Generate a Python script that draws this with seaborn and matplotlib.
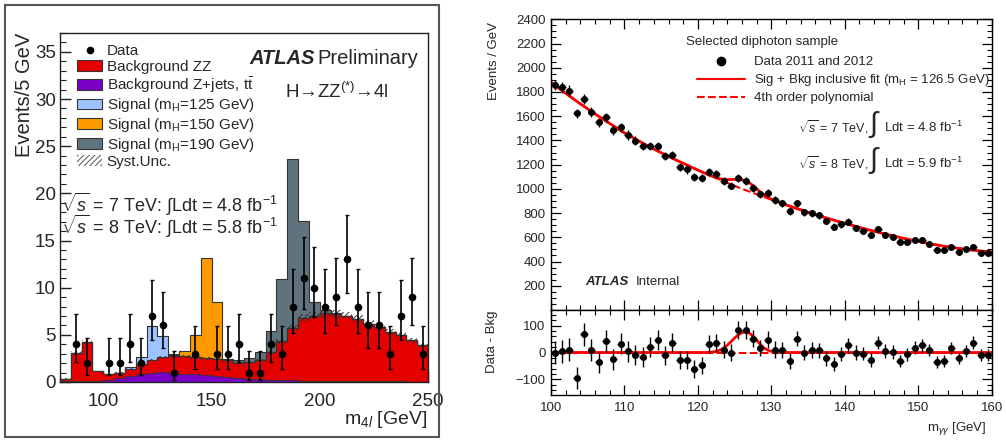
import numpy as np
import pandas as pd
import matplotlib
matplotlib.use("Agg")
import matplotlib.pyplot as plt
import seaborn as sns
from matplotlib.patches import Patch, Rectangle
from matplotlib.lines import Line2D
from matplotlib.ticker import MultipleLocator

sns.set_style("ticks")
plt.rcParams["font.family"] = ["Liberation Sans", "DejaVu Sans"]
plt.rcParams["mathtext.fontset"] = "custom"
plt.rcParams["mathtext.rm"] = "Liberation Sans"
plt.rcParams["mathtext.it"] = "Liberation Sans:italic"
plt.rcParams["mathtext.bf"] = "Liberation Sans:bold"
plt.rcParams["hatch.linewidth"] = 0.7

# ---------------- left: H -> ZZ -> 4l, 5 GeV bins from 80 to 250
edges = list(range(80, 255, 5))
centers = [e + 2.5 for e in edges[:-1]]

zjets = [0.1, 0.15, 0.15, 0.15, 0.25, 0.4, 0.6, 0.8, 0.95, 1.05, 1.0, 0.9, 0.8, 0.7,
         0.6, 0.5, 0.4, 0.35, 0.3, 0.25, 0.2, 0.18, 0.15, 0.13, 0.12, 0.1, 0.1, 0.08,
         0.08, 0.07, 0.06, 0.06, 0.05, 0.05]
zz = [0.26, 2.95, 4.1, 1.0, 0.55, 0.6, 0.8, 1.15, 1.4, 1.6, 1.8, 1.85, 1.85, 1.8,
      1.85, 1.8, 1.65, 1.75, 2.0, 2.95, 4.1, 5.52, 6.65, 6.92, 7.23, 7.15, 6.95, 6.62,
      6.12, 5.78, 5.24, 4.94, 4.35, 3.85]
sig125 = [0, 0, 0, 0, 0, 0, 0.2, 0.7, 3.55, 2.2, 0.1, 0, 0, 0,
          0, 0, 0, 0, 0, 0, 0, 0, 0, 0, 0, 0, 0, 0, 0, 0, 0, 0, 0, 0]
sig150 = [0, 0, 0, 0, 0, 0, 0, 0, 0, 0, 0.15, 0.5, 2.35, 10.6,
          6.05, 0.15, 0, 0, 0, 0, 0, 0, 0, 0, 0, 0, 0, 0, 0, 0, 0, 0, 0, 0]
sig190 = [0, 0, 0, 0, 0, 0, 0, 0, 0, 0, 0, 0, 0, 0,
          0, 0, 0.25, 0.4, 0.9, 2.2, 6.6, 17.9, 10.3, 1.45, 0.3, 0.1, 0, 0, 0, 0, 0, 0, 0, 0]
syst_frac = 0.06

data_m = [87.5, 92.5, 102.5, 107.5, 112.5, 117.5, 122.5, 127.5, 132.5, 142.5, 152.5,
          157.5, 162.5, 167.5, 172.5, 177.5, 182.5, 187.5, 192.5, 197.5, 202.5, 207.5,
          212.5, 217.5, 222.5, 227.5, 232.5, 237.5, 242.5, 247.5]
data_n = [4, 2, 2, 2, 4, 2, 7, 6, 1, 3, 3, 3, 4, 1, 1, 4, 3, 8, 11, 10, 8, 9, 13, 8,
          6, 6, 3, 7, 9, 3]
# 68% Poisson intervals (lower, upper) per observed count
poisson_band = {1: (0.173, 3.300), 2: (0.708, 4.638), 3: (1.367, 5.918),
                4: (2.086, 7.163), 6: (3.620, 9.584), 7: (4.419, 10.77),
                8: (5.232, 11.95), 9: (6.057, 13.11), 10: (6.891, 14.27),
                11: (7.734, 15.42), 13: (9.441, 17.70)}

# ---------------- right: diphoton, 1 GeV bins from 100 to 160
gg_mass = np.arange(100.5, 160.0, 1.0)
gg_events = [1857, 1838, 1811, 1623, 1739, 1637, 1549, 1590, 1486, 1508,
             1445, 1398, 1354, 1354, 1354, 1272, 1280, 1183, 1161, 1101,
             1087, 1137, 1120, 1068, 1027, 1087, 1068, 1010, 955, 969,
             908, 881, 817, 881, 806, 798, 781, 735, 688, 707,
             729, 679, 655, 619, 666, 619, 603, 559, 564, 578,
             578, 545, 495, 495, 523, 481, 501, 523, 468, 468]
gg_resid = [0, 5, 11, -94, 67, 9, -37, 42, -26, 33,
            4, -10, -16, 21, 46, -10, 37, -28, -28, -62,
            -48, 33, 37, 11, 0, 83, 83, 52, 17, 48,
            11, 11, -32, 52, 0, 9, 9, -22, -43, -6,
            27, 0, -4, -28, 37, 5, 2, -32, -7, 17,
            27, 9, -35, -32, 17, -22, 5, 37, -10, -10]

# fit curves: 1 GeV steps, 0.5 GeV steps around the peak
fit_mass = list(range(100, 120)) + [120 + 0.5 * i for i in range(25)] + list(range(133, 161))
bkg_fit = [1880, 1834, 1789, 1745, 1702, 1660, 1619, 1579, 1540, 1501,
           1462, 1428, 1394, 1361, 1329, 1298, 1268, 1239, 1211, 1183,
           1155, 1141, 1128, 1114, 1101, 1088, 1075, 1062, 1050, 1037, 1025, 1013, 1001,
           989, 978, 966, 955, 944, 933, 922, 911, 900, 889, 878, 868,
           847, 827, 807, 788, 769, 751, 733, 716, 699, 682, 666, 650, 635, 620,
           606, 592, 579, 566, 554, 543, 532, 522, 513, 505, 497, 490, 484, 479]
sig_fit = [0] * 20 + [0, 0, 0, 0.5, 2, 4, 9, 16, 27, 40, 54, 66, 74, 76, 72, 61, 46, 30,
                      17, 9, 4, 1.5, 0.5, 0, 0] + [0] * 28

RED = "#e50000"
PURPLE = "#7a00c8"
LBLUE = "#9fc3ff"
ORANGE = "#ff9a00"
GREY = "#5f727d"
EDGE = "#333333"

W, H = 1006, 441


def px(x, y):
    return x / W, 1 - y / H


hist = pd.DataFrame({"m": centers, "zjets": zjets, "zz": zz,
                     "s125": sig125, "s150": sig150, "s190": sig190})
hist["bkg"] = hist["zz"] + hist["zjets"]
hist["top125"] = hist["bkg"] + hist["s125"]
hist["top150"] = hist["bkg"] + hist["s150"]
hist["top190"] = hist["bkg"] + hist["s190"]

fig = plt.figure(figsize=(W / 100, H / 100), dpi=100)

# ======================= left panel
axL = fig.add_axes([60 / W, 1 - 382 / H, 368 / W, 349 / H])

for col_name, col in [("top190", GREY), ("top150", ORANGE), ("top125", LBLUE)]:
    sns.histplot(data=hist, x="m", weights=col_name, bins=edges, element="step",
                 fill=True, color=col, alpha=1, edgecolor=EDGE, linewidth=0.8, ax=axL)
sns.histplot(data=hist, x="m", weights="bkg", bins=edges, element="step", fill=True,
             color=RED, alpha=1, edgecolor=EDGE, linewidth=0.8, ax=axL)
sns.histplot(data=hist, x="m", weights="zjets", bins=edges, element="step", fill=True,
             color=PURPLE, alpha=1, edgecolor=EDGE, linewidth=0.6, ax=axL)

bkg_tot = hist["bkg"].to_numpy()
band_lo = np.append(bkg_tot * (1 - syst_frac), bkg_tot[-1] * (1 - syst_frac))
band_hi = np.append(bkg_tot * (1 + syst_frac), bkg_tot[-1] * (1 + syst_frac))
axL.fill_between(edges, band_lo, band_hi, step="post", facecolor="none",
                 edgecolor="#333333", hatch="//////", linewidth=0)

err_lo = [n - poisson_band[n][0] for n in data_n]
err_hi = [poisson_band[n][1] - n for n in data_n]
axL.errorbar(data_m, data_n, yerr=[err_lo, err_hi], fmt="o", color="black",
             ms=4.5, elinewidth=1.2, capsize=1.5, capthick=1)

axL.set_xlim(80, 250)
axL.set_ylim(0, 37)
axL.set_xticks([100, 150, 200, 250])
axL.xaxis.set_minor_locator(MultipleLocator(10))
axL.yaxis.set_major_locator(MultipleLocator(5))
axL.yaxis.set_minor_locator(MultipleLocator(1))
axL.tick_params(which="both", direction="in", top=False, right=False, labelsize=13.5,
                color="#222222")
axL.tick_params(which="major", length=8, width=1)
axL.tick_params(which="minor", length=4.5, width=0.8)
axL.tick_params(axis="x", pad=8)
axL.tick_params(axis="y", pad=3)
axL.set_xlabel("")
axL.set_ylabel("")
for s in axL.spines.values():
    s.set_color("#222222")
    s.set_linewidth(1)

handles = [
    Line2D([], [], marker="o", color="black", ls="none", ms=4.5),
    Patch(facecolor=RED, edgecolor=EDGE, lw=0.8),
    Patch(facecolor=PURPLE, edgecolor=EDGE, lw=0.8),
    Patch(facecolor=LBLUE, edgecolor=EDGE, lw=0.8),
    Patch(facecolor=ORANGE, edgecolor=EDGE, lw=0.8),
    Patch(facecolor=GREY, edgecolor=EDGE, lw=0.8),
    Patch(facecolor="white", edgecolor="#555555", hatch="//////", lw=0),
]
labels = ["Data", "Background ZZ", r"Background Z+jets, t$\bar{\mathrm{t}}$",
          r"Signal (m$_\mathrm{H}$=125 GeV)", r"Signal (m$_\mathrm{H}$=150 GeV)",
          r"Signal (m$_\mathrm{H}$=190 GeV)", "Syst.Unc."]
axL.legend(handles, labels, loc="upper left", bbox_to_anchor=px(77, 44),
           bbox_transform=fig.transFigure, frameon=False, fontsize=11,
           handlelength=1.65, handleheight=0.7, labelspacing=0.1,
           handletextpad=0.3, borderpad=0, borderaxespad=0)

fig.text(*px(249, 58), "ATLAS", fontsize=14.5, fontweight="bold", fontstyle="italic",
         ha="left", va="center")
fig.text(*px(317, 58), "Preliminary", fontsize=14.5, ha="left", va="center")
fig.text(*px(285, 92), r"H→ZZ$^{(*)}$→4l", fontsize=13.5, ha="left", va="center")
fig.text(*px(61, 204), r"$\sqrt{s}$ = 7 TeV: ∫Ldt = 4.8 fb$^{-1}$", fontsize=13,
         ha="left", va="center")
fig.text(*px(61, 226), r"$\sqrt{s}$ = 8 TeV: ∫Ldt = 5.8 fb$^{-1}$", fontsize=13,
         ha="left", va="center")
fig.text(*px(25, 33), "Events/5 GeV", fontsize=14.5, rotation=90, ha="center", va="top")
fig.text(*px(427, 420), r"m$_{4l}$ [GeV]", fontsize=14, ha="right", va="center")

fig.add_artist(Rectangle(px(5, 437), 434 / W, 432 / H, transform=fig.transFigure,
                         fill=False, edgecolor="#555555", lw=1.5))

# ======================= right panel
axM = fig.add_axes([551 / W, 1 - 310 / H, 440.7 / W, 290.7 / H])
axR = fig.add_axes([551 / W, 1 - 395 / H, 440.7 / W, 85 / H], sharex=axM)

sig_plus_bkg = np.array(bkg_fit) + np.array(sig_fit)
sns.lineplot(x=fit_mass, y=sig_plus_bkg, color="red", lw=2, ax=axM)
sns.lineplot(x=fit_mass, y=bkg_fit, color="red", lw=1.5, ls="--", ax=axM)
axM.errorbar(gg_mass, gg_events, xerr=0.5, yerr=np.sqrt(gg_events), fmt="o",
             color="black", ms=4, elinewidth=1, capsize=0)

sns.lineplot(x=fit_mass, y=sig_fit, color="red", lw=2, ax=axR)
axR.axhline(0, color="red", lw=1.5, ls="--")
axR.errorbar(gg_mass, gg_resid, xerr=0.5, yerr=np.sqrt(gg_events), fmt="o",
             color="black", ms=4, elinewidth=1, capsize=0)

axM.set_xlim(100, 160)
axM.set_ylim(0, 2400)
axM.set_yticks(np.arange(200, 2401, 200))
axM.yaxis.set_minor_locator(MultipleLocator(50))
axM.xaxis.set_major_locator(MultipleLocator(10))
axM.xaxis.set_minor_locator(MultipleLocator(2))
axR.set_ylim(-158, 158)
axR.set_yticks([-100, 0, 100])
axR.yaxis.set_minor_locator(MultipleLocator(20))

for ax in (axM, axR):
    ax.tick_params(which="both", direction="in", top=True, right=True, labelsize=9.5,
                   color="black")
    ax.tick_params(which="major", length=7, width=0.9)
    ax.tick_params(which="minor", length=3.5, width=0.8)
    ax.tick_params(axis="y", pad=4)
    ax.tick_params(axis="x", pad=5)
    ax.set_xlabel("")
    ax.set_ylabel("")
    for s in ax.spines.values():
        s.set_color("black")
        s.set_linewidth(1)
axM.tick_params(axis="x", labelbottom=False)

fig.text(*px(686, 42), "Selected diphoton sample", fontsize=9.5, ha="left", va="center")
axM.legend([Line2D([], [], marker="o", color="black", ls="none", ms=6),
            Line2D([], [], color="red", lw=1.5),
            Line2D([], [], color="red", lw=1.5, ls="--")],
           ["Data 2011 and 2012",
            r"Sig + Bkg inclusive fit (m$_\mathrm{H}$ = 126.5 GeV)",
            "4th order polynomial"],
           loc="upper left", bbox_to_anchor=px(697, 56), bbox_transform=fig.transFigure,
           frameon=False, fontsize=9.5, handlelength=3.6, handletextpad=0.75,
           labelspacing=0.3, borderpad=0, borderaxespad=0)

for yc, sq, lumi in [(127, "7", "4.8"), (163, "8", "5.9")]:
    fig.text(*px(798, yc), r"$\sqrt{s}$ = %s TeV," % sq, fontsize=9,
             ha="left", va="center")
    fig.text(*px(869, yc - 3), "∫", fontsize=21, ha="left", va="center")
    fig.text(*px(884, yc), r"Ldt = %s fb$^{-1}$" % lumi, fontsize=9.5,
             ha="left", va="center")
fig.text(*px(585, 282), "ATLAS", fontsize=9.5, fontweight="bold", fontstyle="italic",
         ha="left", va="center")
fig.text(*px(636, 282), "Internal", fontsize=9.5, ha="left", va="center")
fig.text(*px(494, 22), "Events / GeV", fontsize=9.5, rotation=90, ha="center", va="top")
fig.text(*px(492, 342), "Data - Bkg", fontsize=9.5, rotation=90, ha="center", va="center")
fig.text(*px(986, 428), r"m$_{\gamma\gamma}$ [GeV]", fontsize=9.5, ha="right", va="center")

fig.savefig("out.png", dpi=100)
